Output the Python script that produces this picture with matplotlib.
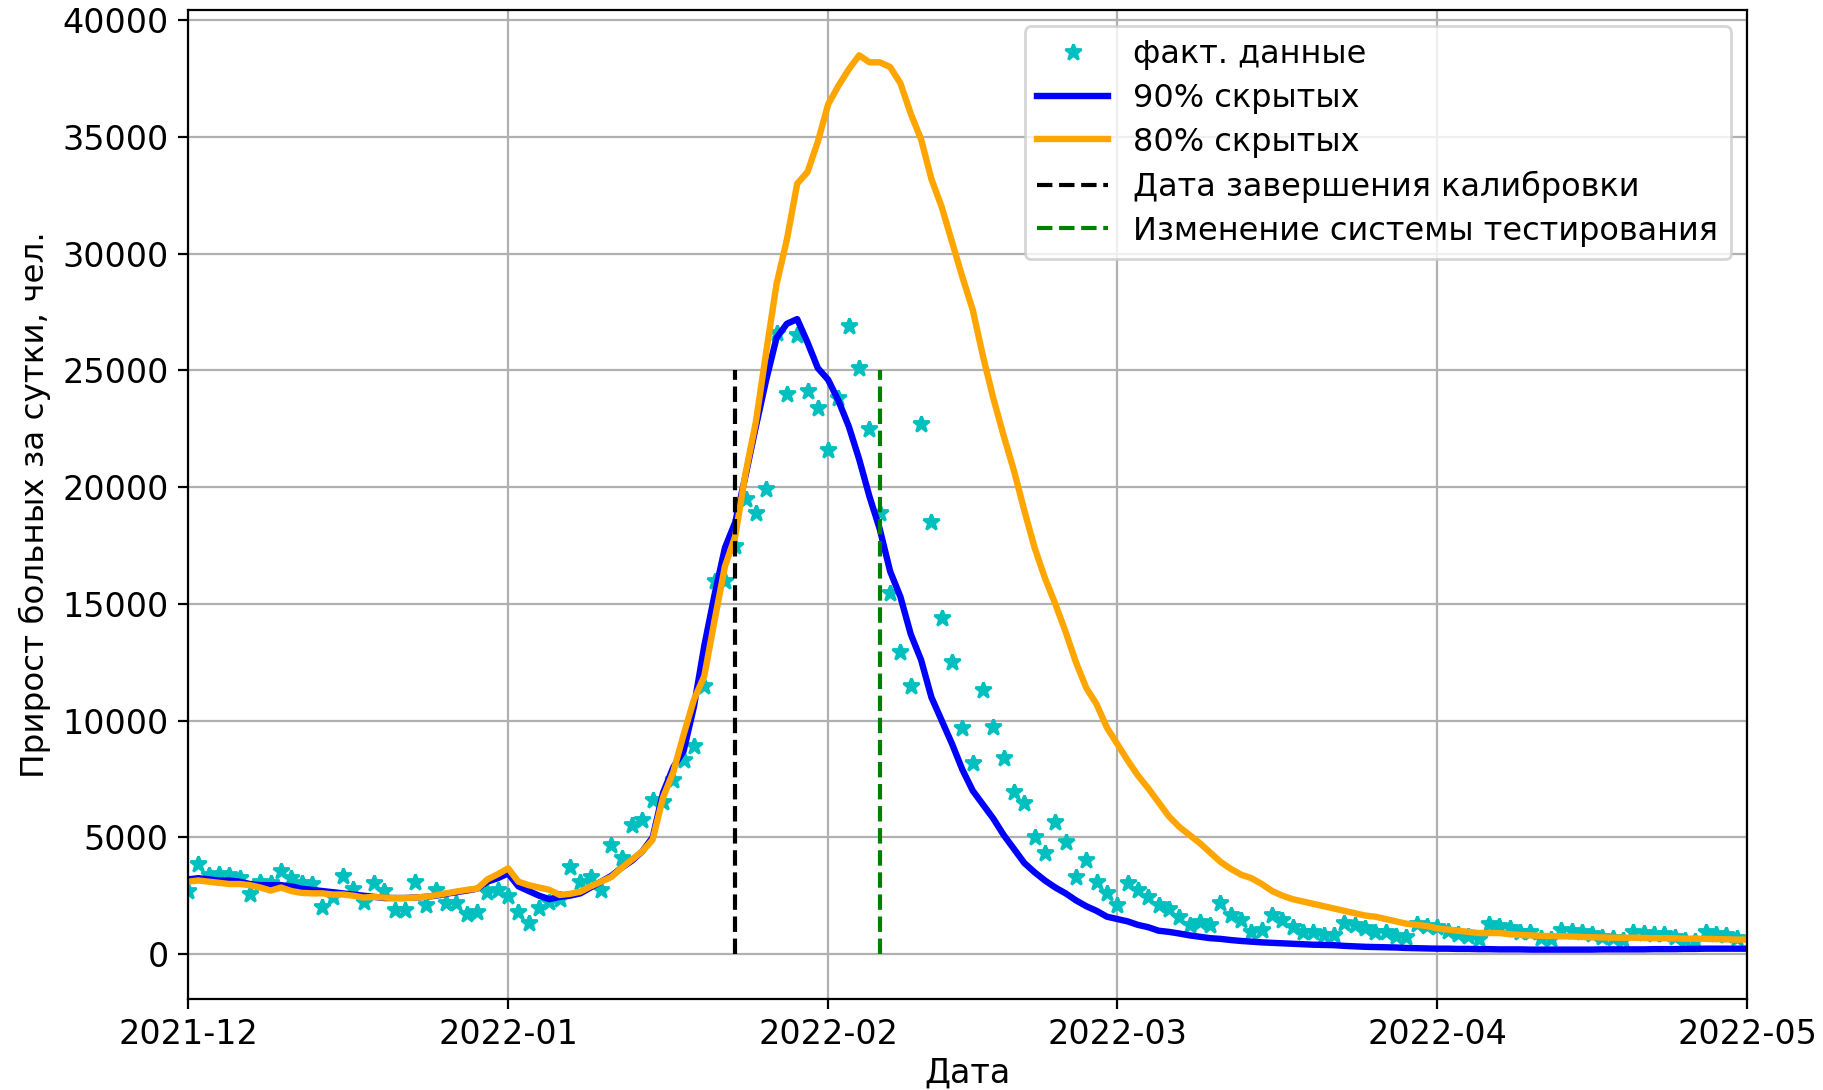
import pandas as pd
import matplotlib
matplotlib.use("Agg")
import matplotlib.pyplot as plt

# дневные данные с 2021-12-01, тыс. чел.
start = "2021-12-01"

fact = [
    2.7, 3.84, 3.4, 3.45, 3.4, 3.25, 2.56, 3.1, 3.05, 3.55,
    3.25, 3.05, 3.0, 2.03, 2.43, 3.35, 2.8, 2.24, 3.03, 2.7,
    1.9, 1.9, 3.1, 2.1, 2.74, 2.17, 2.2, 1.7, 1.81, 2.67,
    2.74, 2.49, 1.81, 1.31, 1.96, 2.24, 2.36, 3.74, 3.1, 3.31,
    2.74, 4.67, 4.1, 5.52, 5.74, 6.6, 6.5, 7.45, 8.3, 8.9,
    11.5, 16.0, 16.0, 17.5, 19.5, 18.9, 19.9, 26.6, 24.0, 26.5,
    24.1, 23.4, 21.6, 23.8, 26.9, 25.1, 22.5, 18.9, 15.45, 12.95,
    11.5, 22.7, 18.5, 14.4, 12.5, 9.67, 8.17, 11.3, 9.73, 8.38,
    6.95, 6.45, 5.02, 4.31, 5.67, 4.81, 3.31, 4.03, 3.1, 2.6,
    2.1, 3.03, 2.74, 2.45, 2.1, 1.95, 1.6, 1.24, 1.38, 1.24,
    2.17, 1.67, 1.45, 0.95, 1.02, 1.67, 1.45, 1.17, 0.95, 0.95,
    0.81, 0.81, 1.31, 1.24, 1.1, 0.95, 0.93, 0.78, 0.71, 1.28,
    1.2, 1.14, 1.0, 0.85, 0.78, 0.64, 1.28, 1.2, 1.1, 0.95,
    0.95, 0.7, 0.65, 1.03, 1.0, 0.95, 0.85, 0.75, 0.7, 0.6,
    0.95, 0.9, 0.85, 0.85, 0.75, 0.6, 0.55, 0.95, 0.85, 0.8,
    0.7,
]

hidden90 = [
    3.2, 3.25, 3.2, 3.15, 3.15, 3.1, 3.0, 2.95, 2.95, 2.95,
    2.9, 2.8, 2.75, 2.7, 2.65, 2.6, 2.55, 2.5, 2.45, 2.4,
    2.4, 2.4, 2.42, 2.45, 2.5, 2.58, 2.65, 2.72, 2.8, 3.1,
    3.25, 3.45, 2.9, 2.7, 2.5, 2.35, 2.45, 2.5, 2.6, 2.85,
    3.1, 3.35, 3.7, 4.0, 4.4, 5.0, 6.9, 8.0, 8.7, 10.6,
    13.2, 15.4, 17.4, 18.5, 20.5, 22.6, 24.6, 26.4, 27.0, 27.2,
    26.2, 25.1, 24.6, 23.7, 22.6, 21.2, 19.6, 18.2, 16.4, 15.3,
    13.7, 12.6, 11.0, 10.0, 9.0, 7.9, 7.0, 6.4, 5.8, 5.1,
    4.5, 3.9, 3.5, 3.15, 2.85, 2.6, 2.3, 2.05, 1.85, 1.6,
    1.5, 1.4, 1.25, 1.15, 1.0, 0.95, 0.88, 0.8, 0.74, 0.68,
    0.65, 0.6, 0.56, 0.53, 0.5, 0.48, 0.46, 0.44, 0.42, 0.4,
    0.39, 0.38, 0.35, 0.33, 0.31, 0.3, 0.29, 0.28, 0.26, 0.25,
    0.24, 0.23, 0.23, 0.22, 0.22, 0.21, 0.21, 0.2, 0.2, 0.2,
    0.19, 0.19, 0.19, 0.19, 0.19, 0.19, 0.19, 0.2, 0.2, 0.2,
    0.2, 0.2, 0.21, 0.21, 0.21, 0.22, 0.22, 0.23, 0.23, 0.23,
    0.23, 0.23,
]

hidden80 = [
    3.1, 3.15, 3.1, 3.05, 3.0, 3.0, 2.95, 2.85, 2.72, 2.85,
    2.7, 2.62, 2.6, 2.6, 2.55, 2.55, 2.5, 2.42, 2.45, 2.42,
    2.4, 2.4, 2.42, 2.45, 2.52, 2.6, 2.68, 2.75, 2.8, 3.2,
    3.42, 3.67, 3.1, 2.95, 2.85, 2.75, 2.53, 2.58, 2.67, 2.9,
    3.1, 3.3, 3.7, 4.05, 4.4, 4.9, 6.7, 7.8, 9.4, 10.9,
    11.9, 14.3, 16.6, 17.9, 20.6, 22.8, 25.8, 28.7, 30.6, 33.0,
    33.5, 34.8, 36.4, 37.2, 37.9, 38.5, 38.2, 38.2, 38.0, 37.3,
    36.0, 34.9, 33.2, 32.0, 30.5, 29.0, 27.6, 25.6, 23.8, 22.2,
    20.7, 19.0, 17.4, 16.1, 15.0, 13.8, 12.5, 11.4, 10.7, 9.7,
    9.0, 8.3, 7.65, 7.1, 6.5, 5.9, 5.45, 5.1, 4.75, 4.35,
    3.95, 3.65, 3.4, 3.25, 3.0, 2.7, 2.5, 2.35, 2.25, 2.15,
    2.05, 1.95, 1.85, 1.75, 1.65, 1.6, 1.5, 1.4, 1.3, 1.25,
    1.2, 1.1, 1.05, 1.0, 0.95, 0.9, 0.9, 0.9, 0.85, 0.82,
    0.8, 0.78, 0.77, 0.76, 0.75, 0.73, 0.72, 0.71, 0.7, 0.7,
    0.7, 0.69, 0.68, 0.68, 0.67, 0.66, 0.66, 0.65, 0.64, 0.63,
    0.62, 0.62,
]

calib_date = "2022-01-23"
test_change_date = "2022-02-06"
vline_top = 25000

fact_dates = pd.date_range(start, periods=len(fact), freq="D")
model_dates = pd.date_range(start, periods=len(hidden90), freq="D")
fact_v = [v * 1000 for v in fact]
h90_v = [v * 1000 for v in hidden90]
h80_v = [v * 1000 for v in hidden80]

plt.rcParams["font.size"] = 12

fig, ax = plt.subplots(figsize=(9.12, 5.45), dpi=200)
fig.subplots_adjust(left=0.1031, right=0.9578, bottom=0.0835, top=0.9905)

ax.plot(fact_dates, fact_v, "c*", label="факт. данные")
ax.plot(model_dates, h90_v, color="blue", lw=2.3, label="90% скрытых")
ax.plot(model_dates, h80_v, color="orange", lw=2.3, label="80% скрытых")

cd = pd.Timestamp(calib_date)
td = pd.Timestamp(test_change_date)
ax.plot([cd, cd], [0, vline_top], "k--", lw=1.5, label="Дата завершения калибровки")
ax.plot([td, td], [0, vline_top], "g--", lw=1.5, label="Изменение системы тестирования")

ax.set_xlim(pd.Timestamp("2021-12-01"), pd.Timestamp("2022-05-01"))
ax.set_xlabel("Дата", labelpad=2)
ax.set_ylabel("Прирост больных за сутки, чел.", fontsize=11.7)
ax.grid(True)
ax.legend(loc="upper right", fontsize=11.5, labelspacing=0.4, handlelength=2.2)

fig.savefig("out.png", dpi=200)
